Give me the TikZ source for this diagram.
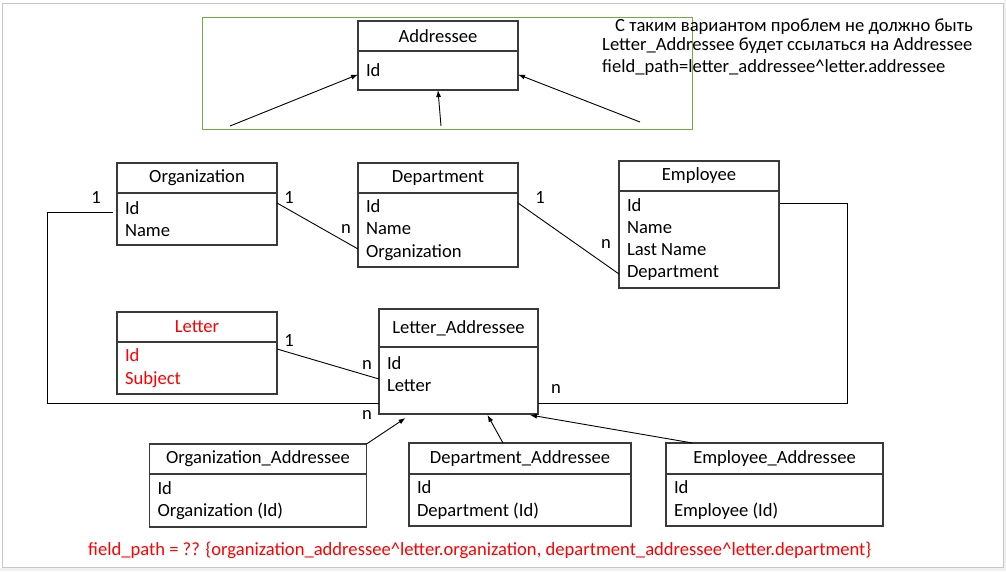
\documentclass[tikz,border=0pt]{standalone}
\usepackage{fontspec}
\setmainfont{Carlito}
\usetikzlibrary{positioning,arrows.meta}

\definecolor{boxline}{HTML}{3A3A3A}
\definecolor{framegreen}{HTML}{70AD47}
\definecolor{slideframe}{HTML}{C6C6C6}
\definecolor{slidegray}{HTML}{F0F0F0}
\definecolor{errred}{HTML}{FF0000}

\tikzset{
  head/.style={draw=boxline, line width=1.2pt, outer sep=0pt, inner sep=0pt, minimum height=30pt},
  body/.style={draw=boxline, line width=1.2pt, outer sep=0pt, inner xsep=8pt, inner ysep=0pt, align=flush left},
  link/.style={line width=0.9pt},
  ref/.style={line width=0.9pt, -{Latex[length=7pt,width=5pt]}},
  card/.style={inner sep=0pt},
  note/.style={inner sep=0pt, anchor=base west},
}

\begin{document}
\begin{tikzpicture}[x=1pt, y=-1pt, font=\fontsize{18.6pt}{22.3pt}\selectfont]
    \useasboundingbox (0,0) rectangle (1006,571);
    \fill[white] (0,0) rectangle (1006,571);
    \fill[slidegray] (0,568) rectangle (1006,571);
    \fill[slidegray] (1004,0) rectangle (1006,571);
    \draw[slideframe, line width=1.2pt] (2.5,3.5) rectangle (1003.5,567.5);

    % Addressee block in the green frame
    \draw[framegreen, line width=1pt] (202.5,17.5) rectangle (692,129);
    \node[head, minimum width=160pt] (addr) at (438,36) {Addressee};
    \node[body, text width=144pt, minimum height=39pt, below=0pt of addr] (addrb) {Id};
    \coordinate (addrl) at (230,126);
    \coordinate (addrm) at (441,126);
    \coordinate (addrr) at (640,122);
    \draw[ref] (addrl) -- ([yshift=-4pt]addrb.west);
    \draw[ref] (addrm) -- (addrb.south);
    \draw[ref] (addrr) -- ([yshift=-4pt]addrb.east);

    \node[note] (note1) at (615,31) {С таким вариантом проблем не должно быть};
    \node[note] (note2) at (602,50) {Letter\_Addressee будет ссылаться на Addressee};
    \node[note] (note3) at (602,72) {field\_path=letter\_addressee\textasciicircum letter.addressee};

    % tables
    \node[head, minimum width=160pt] (org) at (197,178) {Organization};
    \node[body, text width=144pt, minimum height=52pt, below=0pt of org] (orgb) {Id\\Name};

    \node[head, minimum width=160pt] (dept) at (438,178) {Department};
    \node[body, text width=144pt, minimum height=74pt, below=0pt of dept] (deptb) {Id\\Name\\Organization};

    \node[head, minimum width=160pt] (emp) at (699,176) {Employee};
    \node[body, text width=144pt, minimum height=97pt, below=0pt of emp] (empb) {Id\\Name\\Last Name\\Department};

    \node[head, minimum width=160pt, text=errred] (letter) at (197,327) {Letter};
    \node[body, text width=144pt, minimum height=52pt, text=errred, below=0pt of letter] (letterb) {Id\\Subject};

    \node[head, minimum width=159pt, minimum height=38pt] (la) at (458.5,328) {Letter\_Addressee};
    \node[body, text width=143pt, minimum height=67pt, text depth=35pt, below=0pt of la] (lab) {Id\\Letter};

    \node[head, minimum width=217pt] (oa) at (258,459) {Organization\_Addressee};
    \node[body, text width=201pt, minimum height=53pt, below=0pt of oa] (oab) {Id\\Organization (Id)};

    \node[head, minimum width=222pt, minimum height=31pt] (da) at (520,458.5) {Department\_Addressee};
    \node[body, text width=206pt, minimum height=52pt, below=0pt of da] (dab) {Id\\Department (Id)};

    \node[head, minimum width=217pt, minimum height=31pt] (ea) at (774.5,458.5) {Employee\_Addressee};
    \node[body, text width=201pt, minimum height=52pt, below=0pt of ea] (eab) {Id\\Employee (Id)};

    % relations
    \draw[link] ([yshift=-10pt]orgb.north east) -- ([yshift=18pt]deptb.south west);
    \node[card] (orgdept1) at (289,198) {1};
    \node[card] (orgdeptn) at (346,229) {n};

    \draw[link] ([yshift=-10pt]deptb.north east) -- ([yshift=14pt]empb.south west);
    \node[card] (deptemp1) at (540,198) {1};
    \node[card] (deptempn) at (606,244) {n};

    \draw[link] ([yshift=-7pt]letterb.north east) -- ([yshift=-32pt]lab.north west);
    \node[card] (letterla1) at (289,341) {1};
    \node[card] (letterlan) at (367,365) {n};

    \draw[link] ([xshift=-4pt,yshift=-19pt]orgb.north west) -- ++(-66,0) |- ([yshift=11pt]lab.south west);
    \node[card] (orgla1) at (96,198) {1};
    \node[card] (orglan) at (367,415) {n};

    \draw[link] ([xshift=1pt,yshift=-12pt]empb.north east) -- ++(67,0) |- ([yshift=11pt]lab.south east);
    \node[card] (empla) at (556,389) {n};

    \draw[ref] (oa.north east) -- ([xshift=-53pt,yshift=-4pt]lab.south);
    \draw[ref] ([xshift=-17pt]da.north) -- ([xshift=29pt,yshift=-1pt]lab.south);
    \draw[ref] ([xshift=-82pt]ea.north) -- ([xshift=-8pt,yshift=-1pt]lab.south east);

    \node[note, text=errred] (fieldpath) at (88,555) {field\_path = ?? \{organization\_addressee\textasciicircum letter.organization, department\_addressee\textasciicircum letter.department\}};
\end{tikzpicture}
\end{document}
